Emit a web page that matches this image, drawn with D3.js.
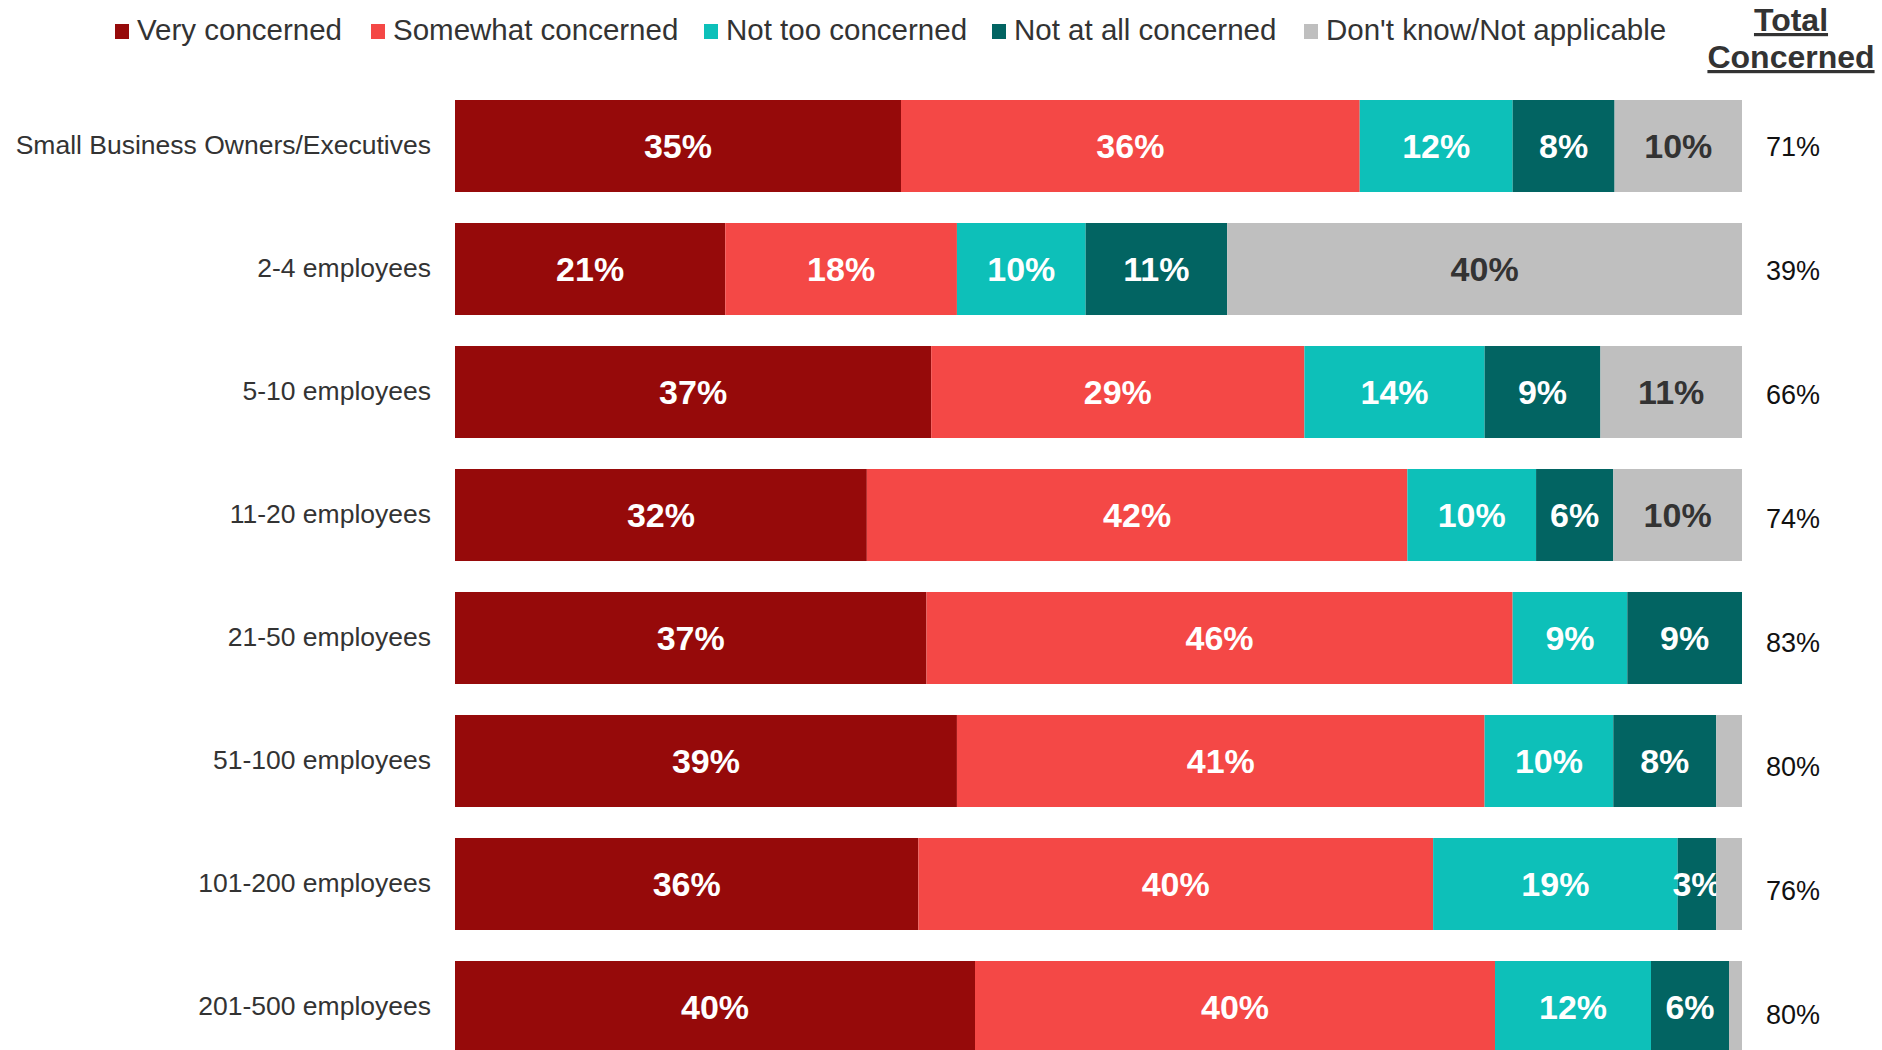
<!DOCTYPE html>
<html>
<head>
<meta charset="utf-8">
<script src="https://cdn.jsdelivr.net/npm/d3@7"></script>
<style>
  html, body { margin: 0; padding: 0; background: #fff; }
  svg { display: block; font-family: "Liberation Sans", Arial, sans-serif; }
</style>
</head>
<body>
<svg id="chart" width="1882" height="1050"></svg>
<script>
// Survey groups (rows, top to bottom)
const groups = [
  "Small Business Owners/Executives",
  "2-4 employees",
  "5-10 employees",
  "11-20 employees",
  "21-50 employees",
  "51-100 employees",
  "101-200 employees",
  "201-500 employees"
];

// Response categories (stack order, left to right)
const responses = [
  "Very concerned",
  "Somewhat concerned",
  "Not too concerned",
  "Not at all concerned",
  "Don't know/Not applicable"
];

// Percent of respondents per response, one entry per group
const veryConcerned     = [35, 21, 37, 32, 37, 39, 36, 40];
const somewhatConcerned = [36, 18, 29, 42, 46, 41, 40, 40];
const notTooConcerned   = [12, 10, 14, 10,  9, 10, 19, 12];
const notAtAllConcerned = [ 8, 11,  9,  6,  9,  8,  3,  6];
const dontKnow          = [10, 40, 11, 10,  0,  2,  2,  1];

// Very + somewhat concerned, shown in the right-hand column
const totalConcerned = [71, 39, 66, 74, 83, 80, 76, 80];

const colors = ["#960A0A", "#F44846", "#0DC0B9", "#026462", "#BFBFBF"];
const labelColors = ["#fff", "#fff", "#fff", "#fff", "#333"];

const seriesValues = [veryConcerned, somewhatConcerned, notTooConcerned, notAtAllConcerned, dontKnow];
const table = groups.map((g, i) => {
  const row = { group: g };
  responses.forEach((r, k) => { row[r] = seriesValues[k][i]; });
  return row;
});

const svg = d3.select("#chart");

const x = d3.scaleLinear().domain([0, 1]).range([455, 1742]);
const y = d3.scaleBand().domain(groups).range([100, 1053]).paddingInner(0.252).paddingOuter(0);
const yTotal = d3.scalePoint().domain(groups).range([147, 1015]);
const color = d3.scaleOrdinal().domain(responses).range(colors);
const labelColor = d3.scaleOrdinal().domain(responses).range(labelColors);

const stacked = d3.stack().keys(responses).offset(d3.stackOffsetExpand)(table);

// Stacked bars
const layers = svg.append("g").selectAll("g")
  .data(stacked)
  .join("g")
  .attr("fill", d => color(d.key));

layers.selectAll("rect")
  .data(d => d.map(s => Object.assign(s, { key: d.key })))
  .join("rect")
  .attr("x", d => x(d[0]))
  .attr("y", d => y(d.data.group))
  .attr("width", d => Math.max(0, x(d[1]) - x(d[0])))
  .attr("height", y.bandwidth());

// Segment value labels
layers.selectAll("text")
  .data(d => d.filter(s => s.data[d.key] >= 3))
  .join("text")
  .attr("x", d => (x(d[0]) + x(d[1])) / 2)
  .attr("y", d => y(d.data.group) + y.bandwidth() / 2)
  .attr("text-anchor", "middle")
  .attr("dominant-baseline", "central")
  .attr("fill", d => labelColor(d.key))
  .attr("font-weight", "bold")
  .attr("font-size", "34px")
  .text(d => d.data[d.key] + "%");

// Row labels
const yAxis = d3.axisLeft(y).tickSize(0).tickPadding(24);
const axisG = svg.append("g").attr("transform", `translate(${x(0)},0)`).call(yAxis);
axisG.select(".domain").remove();
axisG.selectAll("text")
  .attr("font-size", "26.5px")
  .attr("font-family", "'Liberation Sans', Arial, sans-serif")
  .attr("fill", "#333");

// Total concerned column
svg.append("g").selectAll("text")
  .data(groups)
  .join("text")
  .attr("x", 1793)
  .attr("y", d => yTotal(d))
  .attr("text-anchor", "middle")
  .attr("dominant-baseline", "central")
  .attr("font-size", "27px")
  .attr("fill", "#111")
  .text((d, i) => totalConcerned[i] + "%");

const header = svg.append("g")
  .attr("font-weight", "bold")
  .attr("font-size", "32px")
  .attr("fill", "#333")
  .attr("text-anchor", "middle")
  .attr("text-decoration", "underline");
header.append("text").attr("x", 1791).attr("y", 31).text("Total");
header.append("text").attr("x", 1791).attr("y", 68).text("Concerned");

// Legend
const legendX = [115, 371, 704, 992, 1304];
const legend = svg.append("g").selectAll("g")
  .data(responses)
  .join("g")
  .attr("transform", (d, i) => `translate(${legendX[i]},0)`);
legend.append("rect")
  .attr("x", 0).attr("y", 24).attr("width", 14).attr("height", 15)
  .attr("fill", d => color(d));
legend.append("text")
  .attr("x", 22).attr("y", 40)
  .attr("font-size", "29.5px")
  .attr("fill", "#333")
  .text(d => d);
</script>
</body>
</html>
